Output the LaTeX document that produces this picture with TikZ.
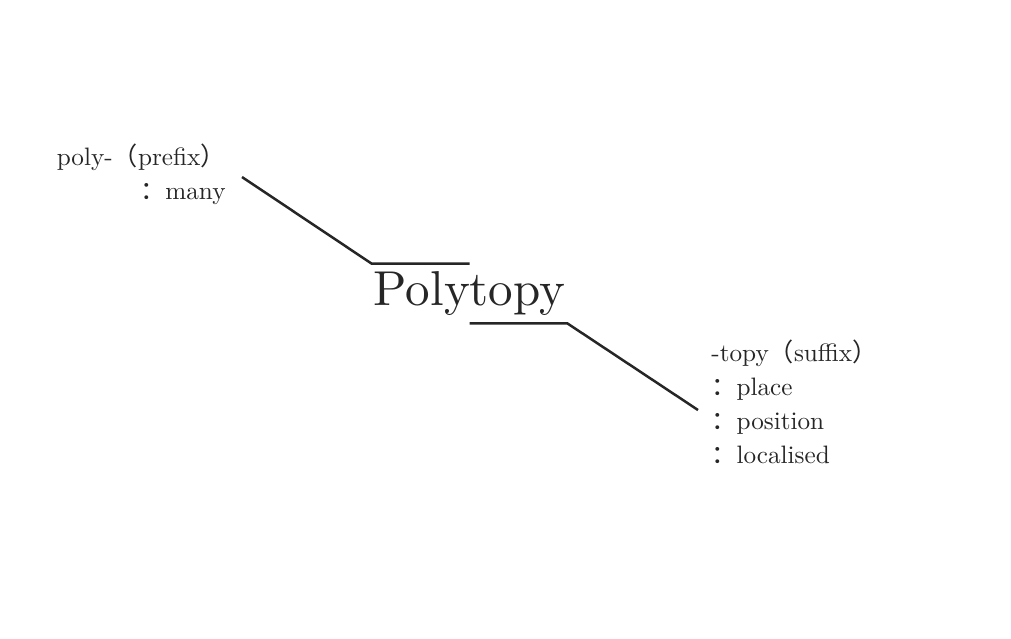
\documentclass[tikz,border=0pt]{standalone}
\usepackage{fontspec}
\newfontfamily\cjk{Noto Sans CJK SC}
\newfontfamily\lmten{lmroman10-regular}[Extension=.otf]
\usetikzlibrary{positioning}

\newcommand{\lpar}{{\cjk （}}
\newcommand{\rpar}{{\cjk ）}}
\newcommand{\gcolon}{{\cjk ：}}

\begin{document}
\begin{tikzpicture}[
    x=0.5pt, y=-0.5pt,
    gloss/.style={font=\lmten\fontsize{12.6}{17}\selectfont, inner sep=0pt, text=black!85},
    headword/.style={font=\lmten\fontsize{24.5}{29}\selectfont, inner sep=0pt,
        minimum width=97.5pt, minimum height=29.5pt, text=black!85},
    leader/.style={line width=1.25pt, draw=black!85}
]
\useasboundingbox (0,0) rectangle (1011,638);

\node[headword] (word) at (469.5,293.5) {Polytopy};
\node[gloss, align=right, anchor=base east] (prefix) at (226,199)
    {poly-\lpar prefix\rpar\\ \gcolon many};
\node[gloss, align=left, anchor=base west] (suffix) at (711,463)
    {-topy\lpar suffix\rpar\\ \gcolon place\\ \gcolon position\\ \gcolon localised};

\coordinate (prefix-tip) at (242,177);
\coordinate (suffix-tip) at (698,410);

\draw[leader] (prefix-tip) -- (word.north west) -- (word.north);
\draw[leader] (word.south) -- (word.south east) -- (suffix-tip);
\end{tikzpicture}
\end{document}
